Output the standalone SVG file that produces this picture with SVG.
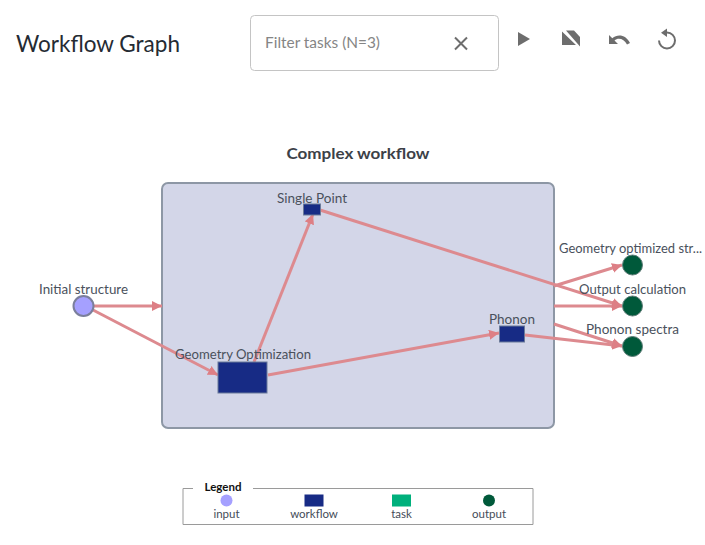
<svg xmlns="http://www.w3.org/2000/svg" width="705" height="545" viewBox="0 0 705 545">
<style>
text{font-family:"Lato","Open Sans",sans-serif}
.lbl{font-size:14px;fill:#4a515c;text-anchor:middle}
.leg{font-size:11.500px;fill:#444c58;text-anchor:middle}
.edge{fill:none;stroke:#dd8a8f;stroke-width:3}
.wf{fill:#172b85;stroke:#6b7a99;stroke-width:1}
.out{fill:#00593a;stroke:#5f7d78;stroke-width:1}
.ic{fill:#6d6d6d}
</style>
<defs>
<marker id="a" markerUnits="userSpaceOnUse" markerWidth="12" markerHeight="12" refX="10" refY="5" orient="auto"><path d="M0 0L10 5L0 10z" fill="#dd7f85"/></marker>
</defs>
<rect width="705" height="545" fill="#fff"/>
<g id="header">
<text x="16" y="52" font-size="24" fill="#252b33" textLength="164" lengthAdjust="spacingAndGlyphs">Workflow Graph</text>
<rect x="250.500" y="15.500" width="248" height="55" rx="4" fill="#fff" stroke="#c4c4c4"/>
<text x="265" y="48" font-size="14.500" fill="#858585" textLength="115" lengthAdjust="spacingAndGlyphs">Filter tasks (N=3)</text>
<path d="M455 37.500L467 49.500M467 37.500L455 49.500" stroke="#6d6d6d" stroke-width="2" fill="none"/>
<path class="ic" d="M518 32L530 39L518 46z"/>
<path class="ic" d="M566 30.500H574L580 37V46.500zM562 31.500V45H576z"/>
<path class="ic" d="M609 35V44H618L614.500 40.500C618 37.500 624 38.500 627 44.500L630 43C626 35 618 33.500 612.300 38.300z"/>
<path d="M667 32.500A8 8 0 1 1 659 40.500" fill="none" stroke="#6d6d6d" stroke-width="2"/>
<path class="ic" d="M667 28.500V37L661 32.700z"/>
</g>
<text x="358" y="159" font-size="16" font-weight="700" fill="#3c4148" text-anchor="middle" textLength="143" lengthAdjust="spacingAndGlyphs">Complex workflow</text>
<g id="workflow-box"><rect x="162" y="183" width="392" height="245" rx="6" fill="#d3d6e8" stroke="#8d97a5" stroke-width="2"/></g>
<g id="connectors">
<path class="edge" d="M94 306H162" marker-end="url(#a)"/>
<path class="edge" d="M93 310L218 375" marker-end="url(#a)"/>
<path class="edge" d="M254 362L313 214" marker-end="url(#a)"/>
<path class="edge" d="M268 375L499 333" marker-end="url(#a)"/>
<path class="edge" d="M320 210L622 306" marker-end="url(#a)"/>
<path class="edge" d="M525 335L622 346" marker-end="url(#a)"/>
<path class="edge" d="M554 286L622 265" marker-end="url(#a)"/>
<path class="edge" d="M554 306H622" marker-end="url(#a)"/>
<path class="edge" d="M554 324L622 346" marker-end="url(#a)"/>
</g>
<g id="initial-structure"><circle cx="83.500" cy="306" r="10" fill="#a5a0ff" stroke="#7b7f9c" stroke-width="2"/><text class="lbl" x="83.500" y="294" textLength="89" lengthAdjust="spacingAndGlyphs">Initial structure</text></g>
<g id="geometry-optimization"><rect class="wf" x="218" y="362" width="49" height="31"/><text class="lbl" x="243" y="359" textLength="136" lengthAdjust="spacingAndGlyphs">Geometry Optimization</text></g>
<g id="single-point"><rect class="wf" x="303.500" y="204" width="17" height="11"/><text class="lbl" x="312" y="203" textLength="70" lengthAdjust="spacingAndGlyphs">Single Point</text></g>
<g id="phonon"><rect class="wf" x="499.500" y="326" width="25" height="16"/><text class="lbl" x="512" y="324" textLength="46" lengthAdjust="spacingAndGlyphs">Phonon</text></g>
<g id="geometry-optimized"><circle class="out" cx="632.500" cy="265" r="10"/><text class="lbl" style="font-size:13px" x="630.500" y="253" textLength="143" lengthAdjust="spacingAndGlyphs">Geometry optimized str...</text></g>
<g id="output-calculation"><circle class="out" cx="632.500" cy="306" r="10"/><text class="lbl" x="632.500" y="294" textLength="107" lengthAdjust="spacingAndGlyphs">Output calculation</text></g>
<g id="phonon-spectra"><circle class="out" cx="632.500" cy="346.500" r="10"/><text class="lbl" x="632.500" y="334" textLength="93" lengthAdjust="spacingAndGlyphs">Phonon spectra</text></g>
<g id="legend">
<path d="M193 488.500H183V524.500H533V488.500H253" fill="none" stroke="#9a9a9a"/>
<text x="223" y="491" font-size="11.500" font-weight="700" fill="#111" text-anchor="middle">Legend</text>
<circle cx="226.500" cy="500.500" r="6" fill="#a5a0ff"/><text class="leg" x="226.500" y="518">input</text>
<rect x="304.500" y="494.500" width="19" height="12" fill="#172b85"/><text class="leg" x="314" y="518">workflow</text>
<rect x="392" y="494.500" width="19" height="12" fill="#00b07c"/><text class="leg" x="401.500" y="518">task</text>
<circle cx="489" cy="500.500" r="6" fill="#00593a"/><text class="leg" x="489" y="518">output</text>
</g>
</svg>
